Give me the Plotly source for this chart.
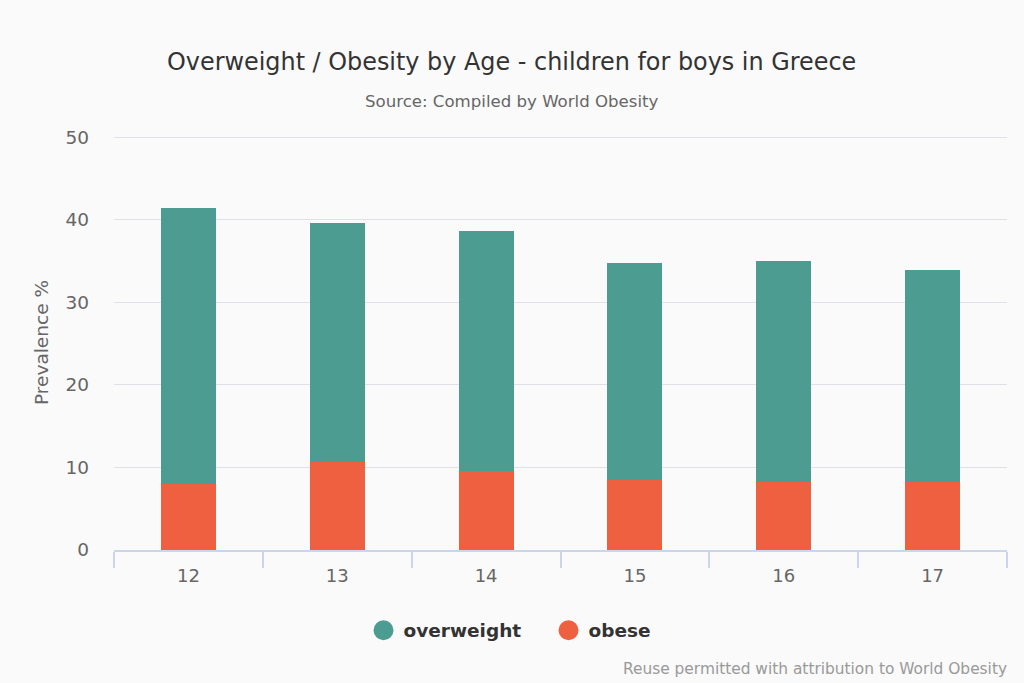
import plotly.graph_objects as go

ages = ["12", "13", "14", "15", "16", "17"]
obese = [8.0, 10.65, 9.55, 8.5, 8.25, 8.2]
overweight = [33.45, 28.9, 29.1, 26.25, 26.75, 25.75]
title = "Overweight / Obesity by Age - children for boys in Greece"
subtitle = "Source: Compiled by World Obesity"
credit = "Reuse permitted with attribution to World Obesity"
GREEN = "#4c9c92"
RED = "#ee6040"
FONT = "DejaVu Sans"

W, H, L, R, T, B = 1024, 683, 114, 17, 135, 133
def px(x): return (x - L) / (W - L - R)
def py(y): return 1 - (y - T) / (H - T - B)

fig = go.Figure()
fig.add_bar(x=ages, y=obese, marker=dict(color=RED, line_width=0), showlegend=False, width=0.37)
fig.add_bar(x=ages, y=overweight, marker=dict(color=GREEN, line_width=0), showlegend=False, width=0.37)
fig.add_scatter(x=[None], y=[None], mode="markers", name="overweight", marker=dict(color=GREEN, size=16, line=dict(color=GREEN, width=4)))
fig.add_scatter(x=[None], y=[None], mode="markers", name="obese", marker=dict(color=RED, size=16, line=dict(color=RED, width=4)))

fig.update_layout(
    barmode="stack", width=W, height=H, autosize=False,
    paper_bgcolor="#fafafa", plot_bgcolor="#fafafa",
    font=dict(family=FONT, color="#666666"),
    margin=dict(l=L, r=R, t=T, b=B),
    legend=dict(orientation="h", x=0.355, xanchor="left", xref="container", y=0.0765, yref="container", yanchor="middle",
                traceorder="normal", entrywidth=140,
                font=dict(size=18.5, color="#333333", weight="bold"), bgcolor="rgba(0,0,0,0)"),
    annotations=[
        dict(text=title, x=px(511), y=py(62), xref="paper", yref="paper", yanchor="middle", showarrow=False, font=dict(size=23.9, color="#333333")),
        dict(text=subtitle, x=px(511.5), y=py(101.7), xref="paper", yref="paper", yanchor="middle", showarrow=False, font=dict(size=16.6, color="#666666")),
        dict(text=credit, x=px(1009), y=py(669), xref="paper", yref="paper", xanchor="right", yanchor="middle", showarrow=False, font=dict(size=15.4, color="#999999")),
    ],
    xaxis=dict(type="category", tickson="boundaries", ticks="outside", ticklen=16, tickcolor="#ccd6eb", tickwidth=1.5,
               linecolor="#ccd6eb", linewidth=1.5, showgrid=False, tickfont=dict(size=18, color="#666666"),
               range=[-0.5, 5.5], ticklabelstandoff=9),
    yaxis=dict(range=[0, 50.25], tick0=0, dtick=10, gridcolor="#dfe1e6", gridwidth=1.2, zeroline=False, showline=False,
               tickfont=dict(size=18.5, color="#666666"), ticklabelstandoff=24,
               title=dict(text="Prevalence %", font=dict(size=18.5, color="#666666"), standoff=11)),
)
fig.write_html("out.html", config=dict(displayModeBar=False),
               post_script="document.body.style.margin='0';document.body.style.background='#fafafa';")
